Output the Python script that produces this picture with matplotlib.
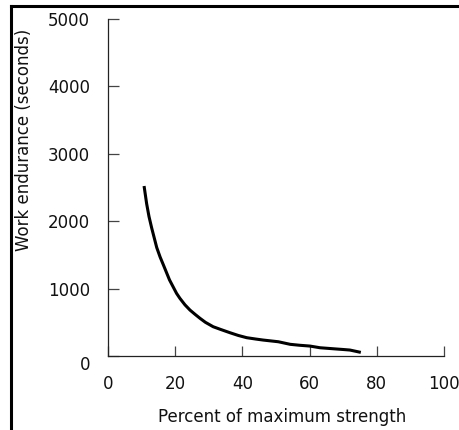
import matplotlib.pyplot as plt
from matplotlib.lines import Line2D

# percent of maximum strength vs work endurance (seconds)
pct = [10.8, 11.5, 12.2, 13.0, 14.5, 15.5, 16.5, 18.3, 20.4, 21.4, 22.9,
       24.4, 26.0, 27.4, 29.0, 31.3, 33.5, 36.3, 38.8, 41.3, 44.0, 46.2,
       50.7, 54.2, 57.0, 60.1, 63.1, 66.0, 68.1, 70.0, 72.0, 74.8]
endurance = [2500, 2260, 2070, 1900, 1610, 1470, 1350, 1130, 930, 856, 760,
             682, 615, 559, 500, 435, 395, 346, 305, 272, 252, 237,
             212, 174, 160, 148, 123, 112, 104, 97, 89, 59]

x_ticks = [0, 20, 40, 60, 80, 100]
y_ticks = [0, 1000, 2000, 3000, 4000, 5000]

plt.rcParams['font.family'] = ['DejaVu Sans']

fig = plt.figure(figsize=(4.59, 4.30), dpi=100)
ax = fig.add_axes([0.2353, 0.172, 0.732, 0.7838])

ax.plot(pct, endurance, color='black', lw=2.2)

ax.set_xlim(0, 100)
ax.set_ylim(0, 5000)
ax.set_xticks(x_ticks)
ax.set_yticks(y_ticks)
ax.spines['top'].set_visible(False)
ax.spines['right'].set_visible(False)
for s in ['left', 'bottom']:
    ax.spines[s].set_linewidth(0.9)
    ax.spines[s].set_color('#222222')
ax.tick_params(axis='x', direction='in', length=7, width=0.9, color='#444444',
               pad=14, labelsize=12, labelcolor='#111111')
ax.tick_params(axis='y', direction='in', length=8, width=0.9, color='#444444',
               pad=13, labelsize=12, labelcolor='#111111')
# the "0" on the y axis sits a little below the axis line
ax.get_yticklabels()[0].set_va('top')

ax.set_xlabel('Percent of maximum strength', fontsize=12, color='#111111')
ax.set_ylabel('Work endurance (seconds)', fontsize=12, color='#111111')
ax.xaxis.set_label_coords(0.518, -0.154)
ax.yaxis.set_label_coords(-0.223, 0.64)

# outer frame lines (left and top)
fig.add_artist(Line2D([0.025, 0.025], [0, 0.986], transform=fig.transFigure,
                      color='black', lw=2.2))
fig.add_artist(Line2D([0.025, 1.0], [0.986, 0.986], transform=fig.transFigure,
                      color='black', lw=2.2))

fig.savefig('out.png', dpi=100)
